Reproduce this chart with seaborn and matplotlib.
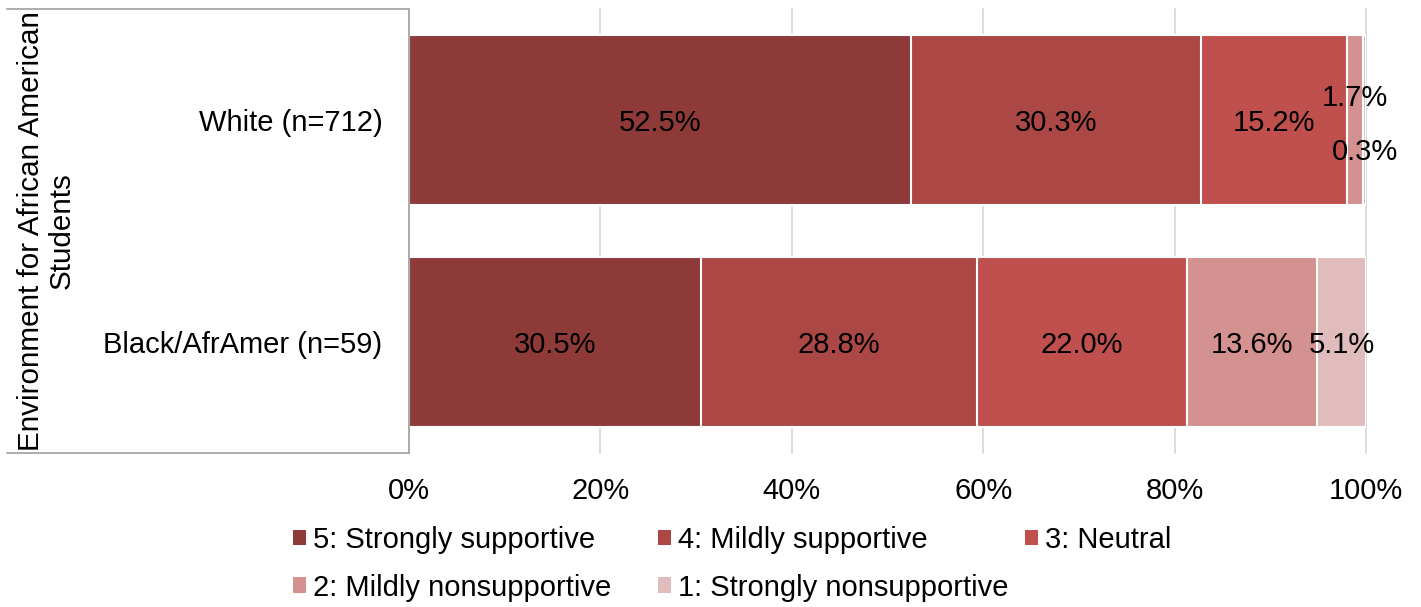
import numpy as np
import pandas as pd
import matplotlib
matplotlib.use("Agg")
import matplotlib.pyplot as plt
import seaborn as sns
from matplotlib.lines import Line2D
from matplotlib.patches import Patch

# ---- data ----
groups = ["White (n=712)", "Black/AfrAmer (n=59)"]
categories = ["5: Strongly supportive", "4: Mildly supportive", "3: Neutral",
              "2: Mildly nonsupportive", "1: Strongly nonsupportive"]
white_pct = [52.5, 30.3, 15.2, 1.7, 0.3]
black_pct = [30.5, 28.8, 22.0, 13.6, 5.1]
x_ticks = [0, 20, 40, 60, 80, 100]
y_title = "Environment for African American\nStudents"

# ---- style ----
colors = ["#8E3A38", "#AB4745", "#C0504D", "#D39190", "#E1BCBC"]
FS = 21
W, H = 1421, 607
sns.set_theme(style="white")
plt.rcParams["font.family"] = ["Liberation Sans", "DejaVu Sans"]
plt.rcParams["text.color"] = "black"
plt.rcParams["axes.labelcolor"] = "black"

df = pd.DataFrame({
    "group": np.repeat(groups, len(categories)),
    "category": categories * len(groups),
    "pct": white_pct + black_pct,
})
df["cum"] = df.groupby("group", sort=False)["pct"].cumsum()
df["start"] = df["cum"] - df["pct"]

fig = plt.figure(figsize=(W / 100, H / 100), dpi=100)
ax = fig.add_axes([409 / W, 1 - 453 / H, (1366 - 409) / W, (453 - 9) / H])

# stacked bars: draw cumulative totals from the outermost segment inward
for cat, col in reversed(list(zip(categories, colors))):
    sub = df[df["category"] == cat]
    sns.barplot(data=sub, x="cum", y="group", order=groups, orient="h",
                color=col, saturation=1, width=0.766, errorbar=None,
                edgecolor="white", linewidth=1.5, ax=ax)

# data labels
label_offsets = {("White (n=712)", "2: Mildly nonsupportive"): (0, 16),
                 ("White (n=712)", "1: Strongly nonsupportive"): (0, -23)}
for _, r in df.iterrows():
    yi = groups.index(r["group"])
    off = label_offsets.get((r["group"], r["category"]), (0, -2))
    ax.annotate(f"{r['pct']:.1f}%", xy=(r["start"] + r["pct"] / 2, yi),
                xytext=off, textcoords="offset points",
                ha="center", va="center", fontsize=FS, color="black",
                annotation_clip=False, zorder=5)

ax.set_xlim(0, 100)
ax.set_ylim(1.5, -0.5)
ax.set_xticks(x_ticks)
ax.set_xticklabels([f"{t}%" for t in x_ticks])
ax.set_xlabel("")
ax.set_ylabel("")
ax.tick_params(axis="x", length=0, pad=17, labelsize=FS, colors="black")
ax.tick_params(axis="y", length=0, pad=19, labelsize=FS, colors="black")
ax.grid(axis="x", color="#D9D9D9", lw=1.3)
ax.grid(axis="y", visible=False)
for gl in ax.get_xgridlines():
    gl.set_clip_on(False)
ax.set_axisbelow(True)
for s in ["top", "right", "bottom"]:
    ax.spines[s].set_visible(False)
ax.spines["left"].set_color("#A6A6A6")
ax.spines["left"].set_linewidth(1.3)

# category box lines on the left
for yy in [9, 453]:
    fig.add_artist(Line2D([7 / W, 409 / W], [1 - yy / H] * 2,
                          transform=fig.transFigure, color="#A6A6A6", lw=1.3))

fig.text(46 / W, 1 - 231 / H, y_title, rotation=90, ha="center", va="center",
         multialignment="center", fontsize=FS + 0.3, linespacing=1.12,
         color="black")

# legend in three columns positioned like the original
cols = [[0, 3], [1, 4], [2]]
xs = [293, 658, 1025]
for idx, x0 in zip(cols, xs):
    hs = [Patch(facecolor=colors[i], edgecolor="none") for i in idx]
    ls = [categories[i] for i in idx]
    leg = fig.legend(hs, ls, loc="upper left", bbox_to_anchor=(x0 / W, 1 - 526 / H),
                     bbox_transform=fig.transFigure, frameon=False, fontsize=FS,
                     borderpad=0, borderaxespad=0, handlelength=0.45,
                     handleheight=0.45, handletextpad=0.24, labelspacing=0.67)
    for t in leg.get_texts():
        t.set_color("black")

fig.savefig("out.png", dpi=100)
